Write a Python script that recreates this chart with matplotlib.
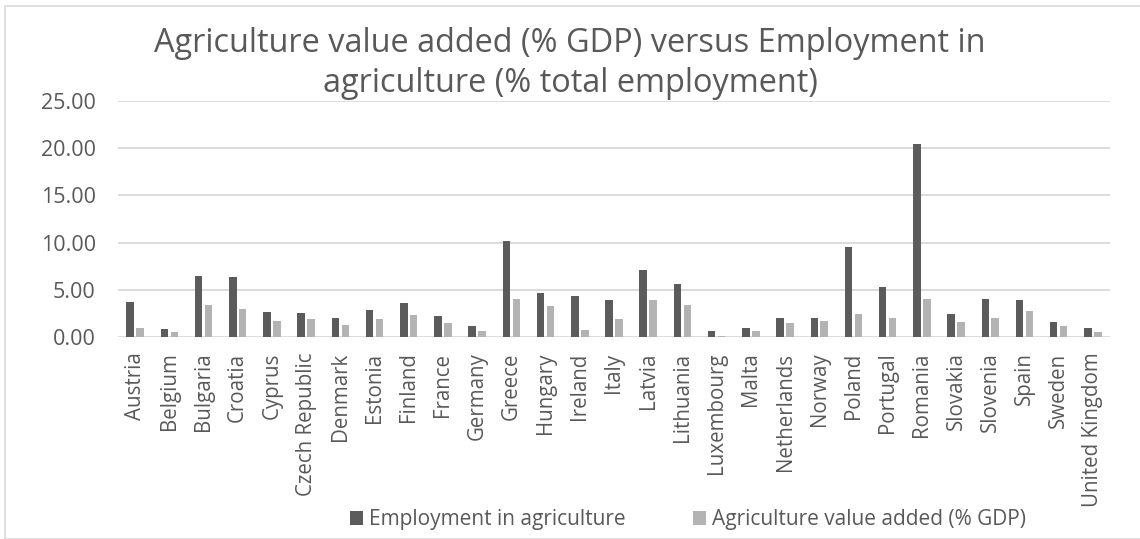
import matplotlib
matplotlib.use("Agg")
import matplotlib.pyplot as plt
from matplotlib.patches import Rectangle
import numpy as np

countries = [
    "Austria", "Belgium", "Bulgaria", "Croatia", "Cyprus", "Czech Republic",
    "Denmark", "Estonia", "Finland", "France", "Germany", "Greece", "Hungary",
    "Ireland", "Italy", "Latvia", "Lithuania", "Luxembourg", "Malta",
    "Netherlands", "Norway", "Poland", "Portugal", "Romania", "Slovakia",
    "Slovenia", "Spain", "Sweden", "United Kingdom",
]
employment = [
    3.77, 0.85, 6.50, 6.37, 2.64, 2.53, 2.04, 2.85, 3.59, 2.25, 1.16, 10.20,
    4.65, 4.36, 3.90, 7.15, 5.60, 0.67, 1.02, 2.00, 2.00, 9.50, 5.28, 20.45,
    2.50, 4.00, 3.90, 1.66, 0.95,
]
value_added = [
    0.98, 0.60, 3.40, 2.96, 1.76, 1.90, 1.27, 1.90, 2.36, 1.48, 0.63, 4.00,
    3.30, 0.81, 1.90, 3.90, 3.45, 0.15, 0.63, 1.50, 1.72, 2.50, 2.08, 4.08,
    1.66, 2.00, 2.75, 1.23, 0.53,
]
y_ticks = [0, 5, 10, 15, 20, 25]

FONT = "Open Sans"
TEXT = "#595959"
GRID = "#d9d9d9"
DARK = "#5b5b5b"
LIGHT = "#b3b3b3"

W, H = 1140, 539
fig = plt.figure(figsize=(W / 100, H / 100), dpi=100)

# light frame around the chart area
fig.patches.append(Rectangle((5 / W, 0), 1.2, (H - 6) / H, transform=fig.transFigure,
                             fill=False, edgecolor=GRID, linewidth=1.2))

left, right = 118, 1110
top, bottom = 100.7, 337.3
ax = fig.add_axes([left / W, (H - bottom) / H, (right - left) / W, (bottom - top) / H])

x = np.arange(len(countries))
bw = 0.22
off = 0.145
ax.bar(x - off, employment, width=bw, color=DARK, linewidth=0,
       label="Employment in agriculture", zorder=3)
ax.bar(x + off, value_added, width=bw, color=LIGHT, linewidth=0,
       label="Agriculture value added (% GDP)", zorder=3)

ax.set_xlim(-0.5, len(countries) - 0.5)
ax.set_ylim(0, 25)
ax.set_yticks(y_ticks)
ax.set_yticklabels([f"{v:.2f}" for v in y_ticks], fontfamily=FONT, fontsize=15.5, color=TEXT)
ax.set_xticks(x)
ax.set_xticklabels(countries, rotation=90, fontfamily=FONT, fontsize=14.8, color=TEXT)
ax.tick_params(axis="both", length=0)
ax.tick_params(axis="y", pad=16)
ax.tick_params(axis="x", pad=11)
for s in ax.spines.values():
    s.set_visible(False)
for v in y_ticks:
    ax.axhline(v, color=GRID, linewidth=1.3, zorder=1)

fig.text(0.5, 1 - 43 / H, "Agriculture value added (% GDP) versus Employment in",
         ha="center", va="center", fontfamily=FONT, fontsize=23.4, color=TEXT)
fig.text(0.5, 1 - 83 / H, "agriculture (% total employment)",
         ha="center", va="center", fontfamily=FONT, fontsize=23.4, color=TEXT)

handles, labels = ax.get_legend_handles_labels()
fig.legend(handles, labels, loc="center", bbox_to_anchor=(688 / W, 1 - 520 / H), ncol=2,
           frameon=False, prop={"family": FONT, "size": 15}, labelcolor=TEXT,
           handlelength=0.65, handleheight=0.65, handletextpad=0.3, columnspacing=3.2)

fig.savefig("out.png", dpi=100)
